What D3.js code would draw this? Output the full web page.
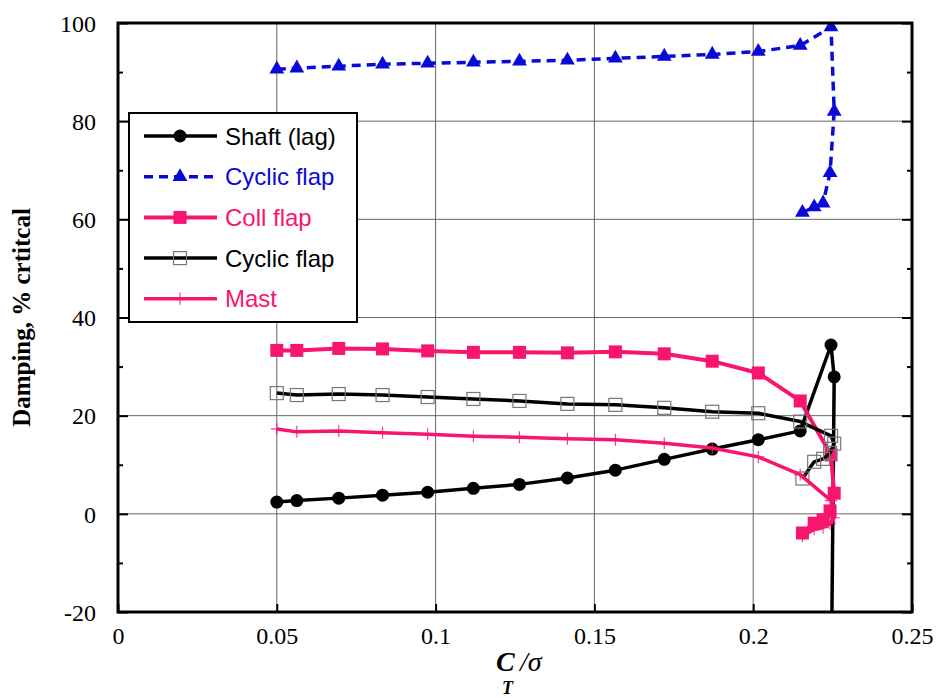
<!DOCTYPE html>
<html>
<head>
<meta charset="utf-8">
<script src="https://cdn.jsdelivr.net/npm/d3@7"></script>
<style>
  html, body { margin: 0; padding: 0; background: #fff; }
  svg { display: block; }
</style>
</head>
<body>
<svg id="chart" width="942" height="698"></svg>
<script>
// ---------------- data ----------------
const ct = [0.05, 0.0563, 0.0695, 0.0833, 0.0975, 0.1119, 0.1264, 0.1415, 0.1566, 0.1720,
            0.1871, 0.2016, 0.2148, 0.2245, 0.2255, 0.2242, 0.2220, 0.2192, 0.2155];
const shaftLag   = [2.4, 2.7, 3.2, 3.8, 4.4, 5.2, 6.0, 7.3, 8.9, 11.1, 13.2, 15.1, 16.9, 34.4, 27.9, -60, null, null, null];
const cyclicFlap = [90.6, 90.8, 91.2, 91.6, 91.8, 92.0, 92.2, 92.4, 92.8, 93.2, 93.6, 94.2, 95.4, 99.2, 82.0, 69.5, 63.3, 62.5, 61.4];
const collFlap   = [33.3, 33.3, 33.7, 33.6, 33.2, 32.9, 32.9, 32.8, 33.0, 32.6, 31.1, 28.7, 23.0, 12.0, 4.2, 0.6, -1.2, -1.9, -3.9];
const cyclicFlap2= [24.6, 24.2, 24.4, 24.2, 23.8, 23.4, 23.0, 22.4, 22.2, 21.6, 20.8, 20.5, 18.8, 15.9, 14.3, 12.4, 11.2, 10.6, 7.2];
const mast       = [17.3, 16.7, 16.9, 16.5, 16.2, 15.8, 15.6, 15.3, 15.1, 14.4, 13.4, 11.6, 8.0, 2.7, -0.8, -2.0, -2.8, -3.2, -4.5];

const seriesNames = ["Shaft (lag)", "Cyclic flap", "Coll flap", "Cyclic flap", "Mast"];
const xTicks = [0, 0.05, 0.1, 0.15, 0.2, 0.25];
const xTickLabels = ["0", "0.05", "0.1", "0.15", "0.2", "0.25"];
const yTicks = [-20, 0, 20, 40, 60, 80, 100];
const yTickLabels = ["-20", "0", "20", "40", "60", "80", "100"];
const yMinorTicks = [-10, 10, 30, 50, 70, 90];

// ---------------- layout ----------------
const PINK = "#f7156f", BLUE = "#0a0ad8";
const m = {left: 118, right: 912, top: 23, bottom: 612};
const svg = d3.select("#chart");
const x = d3.scaleLinear().domain([0, 0.25]).range([m.left, m.right]);
const y = d3.scaleLinear().domain([-20, 100]).range([m.bottom, m.top]);

svg.append("defs").append("clipPath").attr("id", "clip")
  .append("rect").attr("x", m.left).attr("y", m.top)
  .attr("width", m.right - m.left).attr("height", m.bottom - m.top);

// grid
const grid = svg.append("g");
grid.selectAll("line.gx").data(xTicks.slice(1, -1)).join("line")
  .attr("x1", d => x(d)).attr("x2", d => x(d))
  .attr("y1", m.top).attr("y2", m.bottom)
  .attr("stroke", "#666").attr("stroke-width", 1);
grid.selectAll("line.gy").data(yTicks.slice(1, -1)).join("line")
  .attr("y1", d => y(d)).attr("y2", d => y(d))
  .attr("x1", m.left).attr("x2", m.right)
  .attr("stroke", "#666").attr("stroke-width", 1);

// axes (ticks inward)
const axisFont = "'Liberation Serif', 'Times New Roman', serif";
function styleAxis(g) {
  g.select(".domain").remove();
  g.selectAll(".tick line").attr("stroke", "#000").attr("stroke-width", 2);
  g.selectAll(".tick text").attr("font-family", axisFont).attr("font-size", 24).attr("fill", "#000");
}
const yLeft = svg.append("g").attr("transform", `translate(${m.left},0)`)
  .call(d3.axisLeft(y).tickValues(yTicks).tickSize(-10).tickPadding(22)
    .tickFormat(d => yTickLabels[yTicks.indexOf(d)]));
styleAxis(yLeft);
yLeft.selectAll(".tick text").attr("dy", "0.34em");
svg.append("g").attr("transform", `translate(${m.left},0)`)
  .call(d3.axisLeft(y).tickValues(yMinorTicks).tickSize(-5).tickFormat(""))
  .call(styleAxis);
svg.append("g").attr("transform", `translate(${m.right},0)`)
  .call(d3.axisRight(y).tickValues(yTicks).tickSize(-10).tickFormat(""))
  .call(styleAxis);
svg.append("g").attr("transform", `translate(${m.right},0)`)
  .call(d3.axisRight(y).tickValues(yMinorTicks).tickSize(-5).tickFormat(""))
  .call(styleAxis);
const xBottom = svg.append("g").attr("transform", `translate(0,${m.bottom})`)
  .call(d3.axisBottom(x).tickValues(xTicks).tickSize(-8).tickPadding(14)
    .tickFormat(d => xTickLabels[xTicks.indexOf(d)]));
styleAxis(xBottom);
xBottom.selectAll(".tick text").attr("dy", "0.75em");

// ---------------- series ----------------
const dataArr = [shaftLag, cyclicFlap, collFlap, cyclicFlap2, mast];
const styles = [
  {color: "#000", width: 3.5, dash: null, marker: "circle"},
  {color: BLUE, width: 3.5, dash: "9,6", marker: "triangle"},
  {color: PINK, width: 4, dash: null, marker: "square"},
  {color: "#000", width: 3.5, dash: null, marker: "open"},
  {color: PINK, width: 3.5, dash: null, marker: "plus"}
];
const lineGen = d3.line().defined(d => d[1] !== null).x(d => x(d[0])).y(d => y(d[1]));
const plot = svg.append("g").attr("clip-path", "url(#clip)");

function drawMarker(g, type, color) {
  if (type === "circle") {
    g.append("circle").attr("r", 6.5).attr("fill", "#000");
  } else if (type === "triangle") {
    g.append("path").attr("d", d3.symbol(d3.symbolTriangle, 95)()).attr("fill", color);
  } else if (type === "square") {
    g.append("rect").attr("x", -6.5).attr("y", -6.5).attr("width", 13).attr("height", 13).attr("fill", color);
  } else if (type === "open") {
    g.append("rect").attr("x", -6.5).attr("y", -6.5).attr("width", 13).attr("height", 13)
      .attr("fill", "none").attr("stroke", "#777").attr("stroke-width", 1.2);
  } else if (type === "plus") {
    g.append("path").attr("d", "M-6,0H6M0,-6V6").attr("stroke", color).attr("stroke-width", 1.2).attr("opacity", 0.8);
  }
}

dataArr.forEach((vals, i) => {
  const s = styles[i];
  const pts = ct.map((c, j) => [c, vals[j]]);
  plot.append("path").datum(pts).attr("d", lineGen)
    .attr("fill", "none").attr("stroke", s.color).attr("stroke-width", s.width)
    .attr("stroke-dasharray", s.dash).attr("stroke-linejoin", "round");
  pts.filter(p => p[1] !== null && p[1] >= -20 && p[1] <= 100).forEach(p => {
    const g = plot.append("g").attr("transform", `translate(${x(p[0])},${y(p[1])})`);
    drawMarker(g, s.marker, s.color);
  });
});

// frame
svg.append("rect").attr("x", m.left).attr("y", m.top)
  .attr("width", m.right - m.left).attr("height", m.bottom - m.top)
  .attr("fill", "none").attr("stroke", "#000").attr("stroke-width", 3);

// ---------------- legend ----------------
const leg = svg.append("g");
leg.append("rect").attr("x", 129).attr("y", 113).attr("width", 228).attr("height", 209)
  .attr("fill", "#fff").attr("stroke", "#000").attr("stroke-width", 2);
const legColors = ["#000", BLUE, PINK, "#000", PINK];
seriesNames.forEach((name, i) => {
  const s = styles[i];
  const ly = 136 + i * 40.7;
  leg.append("line").attr("x1", 144).attr("x2", 217).attr("y1", ly).attr("y2", ly)
    .attr("stroke", s.color).attr("stroke-width", s.width).attr("stroke-dasharray", s.dash);
  const g = leg.append("g").attr("transform", `translate(180,${ly})`);
  drawMarker(g, s.marker, s.color);
  leg.append("text").attr("x", 225).attr("y", ly).attr("dy", "0.36em")
    .attr("font-family", "'Liberation Sans', Arial, sans-serif").attr("font-size", 24)
    .attr("fill", legColors[i]).text(name);
});

// ---------------- titles ----------------
svg.append("text")
  .attr("transform", `translate(30,${(m.top + m.bottom) / 2}) rotate(-90)`)
  .attr("text-anchor", "middle")
  .attr("font-family", axisFont).attr("font-weight", "bold").attr("font-size", 25)
  .text("Damping, % crtitcal");

const xt = svg.append("g").attr("font-family", axisFont).attr("font-weight", "bold").attr("font-style", "italic");
xt.append("text").attr("x", 496).attr("y", 671).attr("font-size", 28).text("C");
xt.append("text").attr("x", 502).attr("y", 694).attr("font-size", 18).text("T");
xt.append("text").attr("x", 520).attr("y", 671).attr("font-size", 28).attr("font-weight", "normal").text("/σ");
</script>
</body>
</html>
